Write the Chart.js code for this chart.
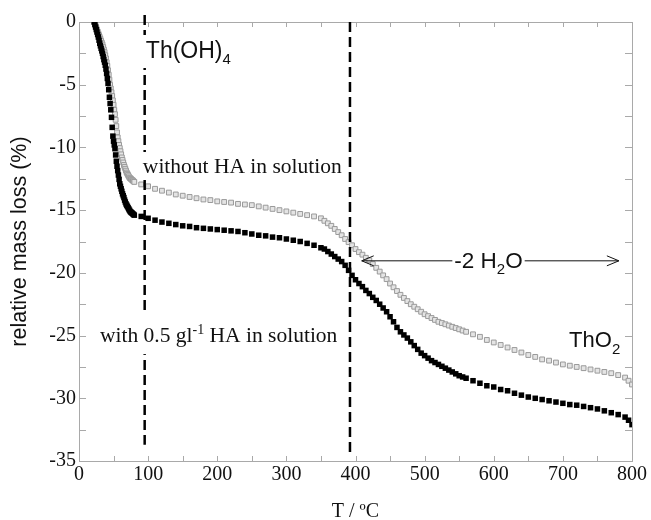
<!DOCTYPE html>
<html>
<head>
<meta charset="utf-8">
<script src="https://cdn.jsdelivr.net/npm/chart.js@4/dist/chart.umd.min.js"></script>
<style>
html,body{margin:0;padding:0;background:#fff;}
canvas{display:block;}
</style>
</head>
<body>
<canvas id="c" width="651" height="520"></canvas>
<script>
// ---- data (temperature in °C, relative mass loss in %) ----
const temps = [
 22,23,24,25,26,27,28,29,30,31,32,33,34,35,36,37,38,39,40,41,42,43,44,45,46,47,48,49,50,
 51,52,53,54,55,56,57,58,59,60,61,62,63,64,65,66,67,68,69,70,71,72,73,74,75,76,77,78,79,80,
 90,100,110,120,130,140,150,160,170,180,190,200,210,220,230,240,250,260,270,280,290,300,310,320,330,340,350,
 355,360,365,370,375,380,385,390,395,400,405,410,415,420,425,430,435,440,445,450,455,460,465,470,475,480,
 485,490,495,500,505,510,515,520,525,530,535,540,545,550,555,560,
 570,580,590,600,610,620,630,640,650,660,670,680,690,700,710,720,730,740,750,760,770,780,790,795,800
];
const withHA = [
 0,-0.2,-0.4,-0.6,-0.8,-1.0,-1.2,-1.45,-1.7,-1.9,-2.1,-2.3,-2.5,-2.75,-3.0,-3.2,-3.45,-3.75,-4.1,-4.5,-4.9,-5.4,-6.0,-6.5,-7.0,-7.6,-8.4,-9.1,-9.5,
 -9.8,-10.1,-10.6,-11.1,-11.5,-11.85,-12.2,-12.55,-12.9,-13.1,-13.3,-13.5,-13.7,-13.85,-14.0,-14.2,-14.35,-14.5,-14.6,-14.7,-14.8,-14.9,-15.0,-15.1,-15.15,-15.2,-15.25,-15.3,-15.35,-15.4,
 -15.5,-15.65,-15.8,-15.95,-16.05,-16.15,-16.25,-16.3,-16.4,-16.45,-16.5,-16.55,-16.6,-16.65,-16.7,-16.8,-16.9,-17.0,-17.05,-17.15,-17.2,-17.3,-17.4,-17.5,-17.65,-17.8,-18.0,
 -18.1,-18.3,-18.5,-18.7,-18.9,-19.1,-19.4,-19.8,-20.2,-20.55,-20.85,-21.1,-21.4,-21.65,-21.95,-22.2,-22.5,-22.8,-23.1,-23.5,-23.9,-24.35,-24.7,-24.95,-25.2,-25.5,
 -25.8,-26.1,-26.4,-26.6,-26.8,-27.0,-27.15,-27.3,-27.45,-27.6,-27.75,-27.9,-28.05,-28.2,-28.3,-28.4,
 -28.6,-28.8,-29.0,-29.1,-29.3,-29.4,-29.6,-29.75,-29.9,-30.0,-30.1,-30.2,-30.3,-30.4,-30.5,-30.55,-30.65,-30.75,-30.85,-31.0,-31.15,-31.3,-31.5,-31.75,-32.1
];
const withoutHA = [
 0,-0.15,-0.3,-0.45,-0.6,-0.75,-0.9,-1.05,-1.2,-1.35,-1.5,-1.65,-1.8,-2.0,-2.2,-2.4,-2.65,-2.9,-3.2,-3.5,-3.85,-4.2,-4.6,-5.0,-5.3,-5.6,-5.9,-6.25,-6.6,
 -7.0,-7.35,-7.8,-8.3,-8.8,-9.2,-9.5,-9.8,-10.05,-10.3,-10.55,-10.8,-11.0,-11.2,-11.4,-11.55,-11.7,-11.85,-12.0,-12.1,-12.2,-12.3,-12.4,-12.45,-12.5,-12.55,-12.6,-12.65,-12.7,-12.75,
 -12.95,-13.1,-13.3,-13.45,-13.6,-13.75,-13.85,-13.95,-14.05,-14.15,-14.2,-14.3,-14.35,-14.4,-14.5,-14.55,-14.6,-14.7,-14.8,-14.9,-15.0,-15.1,-15.2,-15.3,-15.4,-15.5,-15.65,
 -15.85,-16.05,-16.25,-16.5,-16.75,-17.0,-17.3,-17.55,-17.8,-18.1,-18.35,-18.55,-18.8,-19.0,-19.3,-19.6,-19.9,-20.2,-20.5,-20.85,-21.15,-21.45,-21.75,-22.0,-22.25,-22.5,
 -22.7,-22.9,-23.1,-23.3,-23.45,-23.6,-23.75,-23.9,-24.0,-24.1,-24.2,-24.3,-24.4,-24.5,-24.6,-24.7,
 -24.9,-25.1,-25.35,-25.55,-25.75,-25.95,-26.15,-26.35,-26.55,-26.7,-26.9,-27.0,-27.15,-27.3,-27.4,-27.5,-27.6,-27.7,-27.8,-27.9,-28.0,-28.15,-28.35,-28.6,-28.9
];
// vertical dashed marker temperatures and their extent (top, bottom values)
const markerTemps = [95, 392];
const markerTop = [0.55, 0];
const markerBottom = [-33.7, -34.3];
// tick labels
const xTicks = [0,100,200,300,400,500,600,700,800];
const yTicks = [0,-5,-10,-15,-20,-25,-30,-35];

const SANS = "'Liberation Sans', Arial, sans-serif";
const SERIF = "'Liberation Serif', 'Times New Roman', serif";

const pts = (vals) => temps.map((t,i)=>({x:t,y:vals[i]}));

const markerSets = markerTemps.map((t,i)=>({
  label:'marker'+i,
  data:[{x:t,y:markerTop[i]},{x:t,y:markerBottom[i]}],
  showLine:true, borderColor:'#000', borderWidth:2.5, borderDash:[10,5],
  pointRadius:0, clip:false, fill:false
}));

function richText(ctx, x, y, parts){
  let cx = x;
  for(const p of parts){
    ctx.font = p.size+'px '+p.family;
    ctx.fillText(p.t, cx, y+(p.dy||0));
    cx += ctx.measureText(p.t).width;
  }
  return cx;
}
function richWidth(ctx, parts){
  let w=0;
  for(const p of parts){ ctx.font = p.size+'px '+p.family; w += ctx.measureText(p.t).width; }
  return w;
}

const annotations = [
  {T:96.7, V:-2.87, bg:[23,10], parts:[{t:'Th(OH)',size:23,family:SANS},{t:'4',size:15,family:SANS,dy:6}]},
  {T:92.4, V:-12.04, bg:[21,7], parts:[{t:'without HA in solution',size:21.5,family:SERIF}]},
  {T:30.3, V:-25.52, bg:[28,12], parts:[{t:'with 0.5 gl',size:21.5,family:SERIF},{t:'-1',size:14,family:SERIF,dy:-8},{t:' HA in solution',size:21.5,family:SERIF}]},
  {T:709, V:-25.92, bg:null, parts:[{t:'ThO',size:22,family:SANS},{t:'2',size:15,family:SANS,dy:7}]}
];
const arrowAnno = {T0:409, T1:781, V:-19.0, textT:543, textV:-19.62,
  parts:[{t:'-2 H',size:22.5,family:SANS},{t:'2',size:15,family:SANS,dy:6},{t:'O',size:22.5,family:SANS}]};

const decor = {
  id:'decor',
  beforeDatasetsDraw(chart){
    const {ctx, chartArea:a, scales:{x:xs, y:ys}} = chart;
    ctx.save();
    ctx.strokeStyle = '#a9a9a9';
    ctx.lineWidth = 1;
    ctx.strokeRect(Math.round(a.left)+0.5, Math.round(a.top)+0.5, Math.round(a.right-a.left), Math.round(a.bottom-a.top));
    ctx.beginPath();
    for(let t=0;t<=800;t+=50){
      const px = Math.round(xs.getPixelForValue(t))+0.5;
      ctx.moveTo(px, a.bottom); ctx.lineTo(px, a.bottom-5);
      ctx.moveTo(px, a.top); ctx.lineTo(px, a.top+5);
    }
    for(let v=0; v>=-35; v-=2.5){
      const py = Math.round(ys.getPixelForValue(v))+0.5;
      ctx.moveTo(a.left, py); ctx.lineTo(a.left+7, py);
      ctx.moveTo(a.right, py); ctx.lineTo(a.right-7, py);
    }
    ctx.stroke();
    ctx.restore();
  },
  afterDatasetsDraw(chart){
    const {ctx, scales:{x:xs, y:ys}} = chart;
    ctx.save();
    ctx.textBaseline = 'alphabetic';
    ctx.textAlign = 'left';
    for(const an of annotations){
      const x = xs.getPixelForValue(an.T), y = ys.getPixelForValue(an.V);
      const w = richWidth(ctx, an.parts);
      if(an.bg){
        ctx.fillStyle = '#fff';
        ctx.fillRect(x-3, y-an.bg[0], w+6, an.bg[0]+an.bg[1]);
      }
      ctx.fillStyle = '#111';
      richText(ctx, x, y, an.parts);
    }
    // arrow with label
    const y = ys.getPixelForValue(arrowAnno.V);
    const x0 = xs.getPixelForValue(arrowAnno.T0), x1 = xs.getPixelForValue(arrowAnno.T1);
    const tx = xs.getPixelForValue(arrowAnno.textT), ty = ys.getPixelForValue(arrowAnno.textV);
    const tw = richWidth(ctx, arrowAnno.parts);
    ctx.strokeStyle = '#111'; ctx.lineWidth = 1;
    ctx.beginPath();
    ctx.moveTo(x0, y+0.5); ctx.lineTo(tx-2, y+0.5);
    ctx.moveTo(tx+tw+2, y+0.5); ctx.lineTo(x1, y+0.5);
    ctx.moveTo(x0+12, y-4.5); ctx.lineTo(x0, y+0.5); ctx.lineTo(x0+12, y+5.5);
    ctx.moveTo(x1-12, y-4.5); ctx.lineTo(x1, y+0.5); ctx.lineTo(x1-12, y+5.5);
    ctx.stroke();
    ctx.fillStyle = '#111';
    richText(ctx, tx, ty, arrowAnno.parts);
    ctx.restore();
  }
};

new Chart(document.getElementById('c'), {
  type:'scatter',
  data:{
    datasets:[
      ...markerSets,
      {label:'with 0.5 g/l HA', data:pts(withHA), pointStyle:'rect', pointRadius:3.9,
       backgroundColor:'#000', borderColor:'#000', borderWidth:0, showLine:false},
      {label:'without HA', data:pts(withoutHA), pointStyle:'rect', pointRadius:3.4,
       backgroundColor:'#e4e4e4', borderColor:'#9a9a9a', borderWidth:1, showLine:false}
    ]
  },
  options:{
    responsive:false, animation:false, devicePixelRatio:1,
    layout:{padding:{top:22, right:19, left:0, bottom:0}},
    plugins:{legend:{display:false}, tooltip:{enabled:false}},
    scales:{
      x:{type:'linear', min:0, max:800,
        afterBuildTicks(s){ s.ticks = xTicks.map(v=>({value:v})); },
        ticks:{color:'#111', font:{family:SERIF, size:20}, padding:2, maxRotation:0, autoSkip:false},
        grid:{display:false, drawTicks:false}, border:{display:false},
        title:{display:true, text:'T / ºC', color:'#111', font:{family:SERIF, size:20}, padding:{top:0,bottom:-4}},
        afterFit(s){ s.height = 59; }
      },
      y:{type:'linear', min:-35, max:0,
        afterBuildTicks(s){ s.ticks = yTicks.map(v=>({value:v})); },
        ticks:{color:'#111', font:{family:SERIF, size:20}, padding:3, autoSkip:false},
        grid:{display:false, drawTicks:false}, border:{display:false},
        title:{display:true, text:'relative mass loss (%)', color:'#111', font:{family:SANS, size:21.5}, padding:{top:7,bottom:0}},
        afterFit(s){ s.width = 79; }
      }
    }
  },
  plugins:[decor]
});
</script>
</body>
</html>
